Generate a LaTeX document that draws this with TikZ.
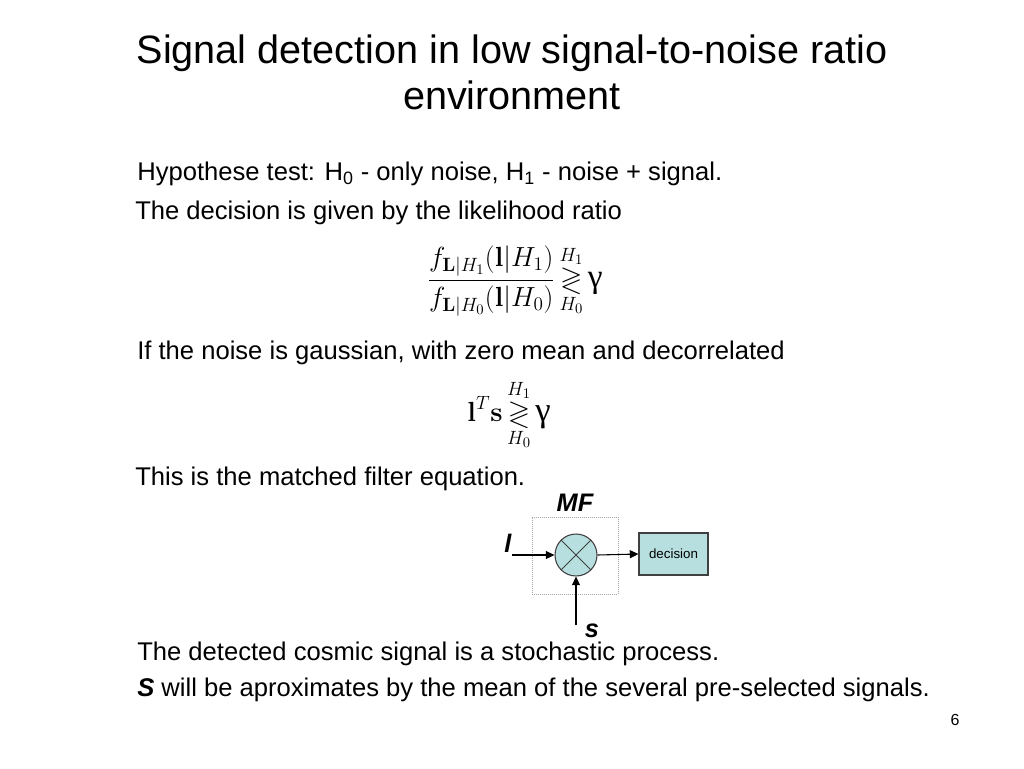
\documentclass[tikz,border=0pt]{standalone}
\usepackage{amsmath,amssymb}
\usepackage[no-math]{fontspec}
\setmainfont{Liberation Sans}
\newfontfamily\serifgr{Liberation Serif}
\usetikzlibrary{arrows.meta}
\definecolor{boxfill}{HTML}{B7DFE0}
\definecolor{boxline}{HTML}{404040}
\tikzset{
  title/.style={font=\fontsize{29.7}{34}\selectfont, anchor=base},
  body/.style={font=\fontsize{19.2}{23}\selectfont, anchor=base west, inner sep=0pt},
  eq/.style={font=\fontsize{21.5}{25}\selectfont, inner sep=0pt},
  arr/.style={-{Triangle[length=6.5pt,width=6pt]}, line width=0.8pt},
  mult/.style={circle, draw=boxline, fill=boxfill, line width=0.8pt, minimum size=31.5pt, inner sep=0pt},
  decbox/.style={rectangle, draw=boxline, fill=boxfill, line width=0.8pt, minimum width=51.75pt, minimum height=31.5pt, inner sep=0pt, font=\fontsize{10}{12}\selectfont},
  mfbox/.style={rectangle, draw=gray!70, densely dotted, line width=0.5pt, minimum width=64.5pt, minimum height=57.75pt, inner sep=0pt},
  lbl/.style={font=\fontsize{19}{22}\selectfont\bfseries\itshape, inner sep=0pt}
}
\begin{document}
\begin{tikzpicture}[x=0.75pt,y=-0.75pt]
\useasboundingbox (0,0) rectangle (1024,768);
\node[title] (t1) at (512,63) {Signal detection in low signal-to-noise ratio};
\node[title] (t2) at (512,109) {environment};
\node[body] (p1) at (137,180) {Hypothese test: H\textsubscript{0} - only noise, H\textsubscript{1} - noise + signal.};
\node[body] (p2) at (135,219) {The decision is given by the likelihood ratio};
\node[eq] (e1) at (515,281) {$\displaystyle \frac{f_{\mathbf{L}|H_1}(\mathbf{l}|H_1)}{f_{\mathbf{L}|H_0}(\mathbf{l}|H_0)} \mathop{\gtrless}\limits^{H_1}_{H_0} \mbox{\serifgr\fontsize{25}{28}\selectfont γ}$};
\node[body] (p3) at (137,359) {If the noise is gaussian, with zero mean and decorrelated};
\node[eq] (e2) at (509,415) {$\displaystyle \mathbf{l}^T\mathbf{s} \mathop{\gtrless}\limits^{H_1}_{H_0} \mbox{\serifgr\fontsize{26}{28}\selectfont γ}$};
\node[body] (p4) at (135,485) {This is the matched filter equation.};
\node[mfbox] (mf) at (575,555.5) {};
\node[lbl] (mflbl) at (575,503) {MF};
\node[mult] (m) at (576,555) {};
\draw[line width=0.6pt, boxline] (m.north west) -- (m.south east) (m.north east) -- (m.south west);
\node[decbox] (dec) at (673.5,554) {decision};
\coordinate (lin) at (512,555);
\coordinate (sin) at (576,625);
\node[lbl] (llbl) at (508,543) {l};
\node[lbl] (slbl) at (592,631) {s};
\draw[arr] (lin) -- (m.west);
\draw[arr] (sin) -- (m.south);
\draw[arr] (m.east) -- (dec.west);
\node[body] (p5) at (137,660) {The detected cosmic signal is a stochastic process.};
\node[body] (p6) at (137,696) {\textbf{\textit{S}} will be aproximates by the mean of the several pre-selected signals.};
\node[font=\fontsize{12}{14}\selectfont] (pg) at (955,720) {6};
\end{tikzpicture}
\end{document}
